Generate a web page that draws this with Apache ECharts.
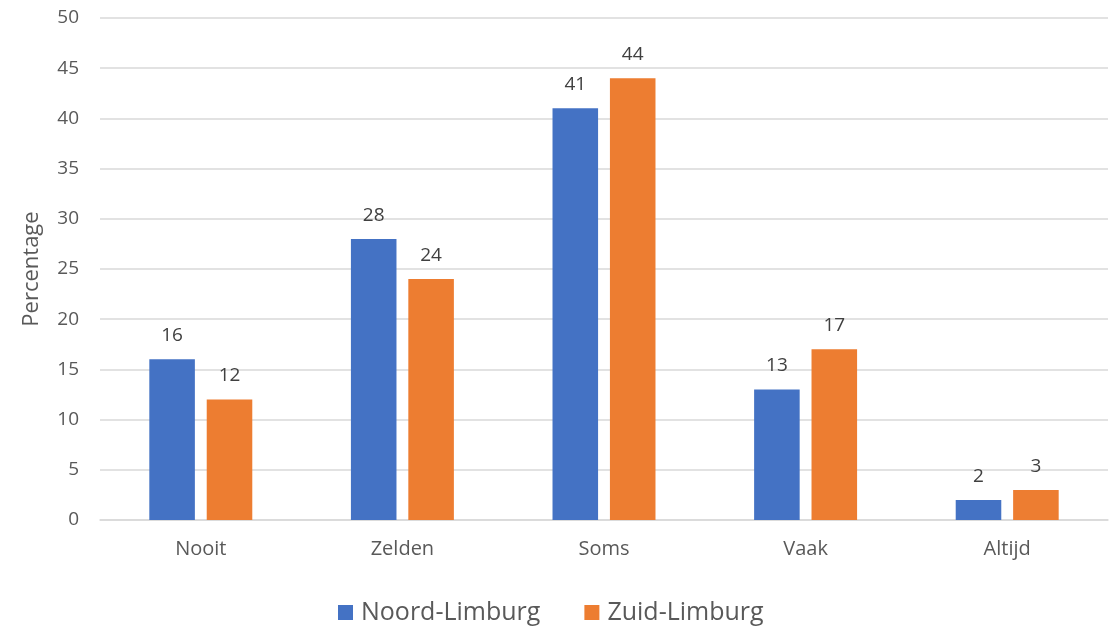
<!DOCTYPE html>
<html>
<head>
<meta charset="utf-8">
<script src="https://cdn.jsdelivr.net/npm/echarts@6/dist/echarts.min.js"></script>
<style>html,body{margin:0;padding:0;background:#fff}#c{width:1113px;height:633px}</style>
</head>
<body>
<div id="c"></div>
<script>
const categories = ['Nooit', 'Zelden', 'Soms', 'Vaak', 'Altijd'];
const noord = [16, 28, 41, 13, 2];
const zuid = [12, 24, 44, 17, 3];
const seriesNames = ['Noord-Limburg', 'Zuid-Limburg'];
const yTicks = { min: 0, max: 50, interval: 5 };

const FONT = '"Open Sans", "Noto Sans", sans-serif';
const chart = echarts.init(document.getElementById('c'), null, { renderer: 'canvas' });
const labelStyle = { show: true, position: 'top', distance: 14, color: '#404040', fontSize: 19, fontFamily: FONT };
chart.setOption({
  animation: false,
  textStyle: { fontFamily: FONT },
  grid: { left: 100, right: 5, top: 18, bottom: 113, containLabel: false },
  legend: {
    bottom: 3, left: 333, itemWidth: 15, itemHeight: 15, itemGap: 44,
    icon: 'rect',
    textStyle: { fontSize: 25, color: '#595959', fontFamily: FONT, padding: [0, 0, 0, 3] },
    data: seriesNames
  },
  xAxis: {
    type: 'category', data: categories,
    axisLine: { lineStyle: { color: '#d9d9d9', width: 1.5 } },
    axisTick: { show: false },
    axisLabel: { color: '#595959', fontSize: 20, margin: 19, fontFamily: FONT }
  },
  yAxis: {
    type: 'value', min: yTicks.min, max: yTicks.max, interval: yTicks.interval,
    name: 'Percentage', nameLocation: 'middle', nameGap: 57, nameRotate: 90,
    nameTextStyle: { color: '#595959', fontSize: 22, fontFamily: FONT },
    axisLine: { show: false }, axisTick: { show: false },
    axisLabel: { color: '#595959', fontSize: 19, margin: 21, fontFamily: FONT },
    splitLine: { lineStyle: { color: '#d9d9d9', width: 1.5 } }
  },
  series: [
    { name: seriesNames[0], type: 'bar', data: noord, barWidth: '22.6%', barGap: '26%',
      itemStyle: { color: '#4472c4' }, label: labelStyle },
    { name: seriesNames[1], type: 'bar', data: zuid, barWidth: '22.6%', barGap: '26%',
      itemStyle: { color: '#ed7d31' }, label: labelStyle }
  ]
});
</script>
</body>
</html>
